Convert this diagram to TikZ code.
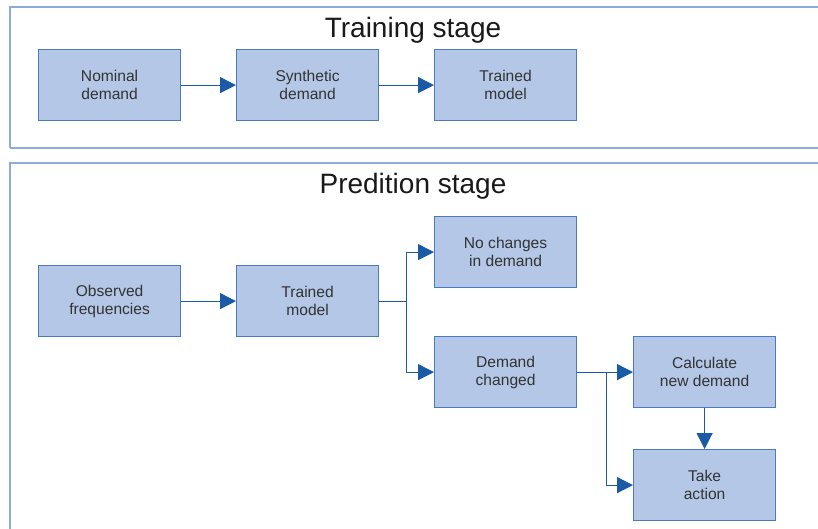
\documentclass[tikz,border=0pt]{standalone}
\usepackage{fontspec}
\setmainfont{Liberation Sans}
\usetikzlibrary{arrows.meta}
\definecolor{boxfill}{HTML}{B4C7E7}
\definecolor{boxline}{HTML}{4A7BBF}
\definecolor{arrowc}{HTML}{1A5AA6}
\definecolor{framec}{HTML}{8FAADC}
\begin{document}
\begin{tikzpicture}[x=1pt,y=-1pt,
  box/.style={draw=boxline, fill=boxfill, line width=1.2pt, minimum width=142pt, minimum height=71pt, inner sep=0pt, align=center, font=\fontsize{15.6}{17.8}\selectfont, text=black!80, anchor=north west},
  conn/.style={draw=arrowc, line width=1.2pt, -{Triangle[length=16pt,width=16pt]}},
  frame/.style={draw=framec, line width=2pt},
  title/.style={font=\fontsize{28}{32}\selectfont, text=black!90}]
\useasboundingbox (0,0) rectangle (818,528);
\fill[white] (0,0) rectangle (818,528);
\draw[frame] (10,148) -- (10,7) -- (830,7);
\draw[frame] (830,148) -- (10,148);
\draw[frame] (10,540) -- (10,163) -- (830,163);
\node[title] (t1) at (413,30) {Training stage};
\node[title] (t2) at (413,186) {Predition stage};
% training
\node[box] (nom) at (38,49) {Nominal\\demand};
\node[box] (syn) at (236,49) {Synthetic\\demand};
\node[box] (tr1) at (434,49) {Trained\\model};
\draw[conn] (nom) -- (syn);
\draw[conn] (syn) -- (tr1);
% prediction
\node[box] (obs) at (38,265) {Observed\\frequencies};
\node[box] (tr2) at (236,265) {Trained\\model};
\node[box] (noc) at (434,216) {No changes\\in demand};
\node[box] (dch) at (434,336) {Demand\\changed};
\node[box] (cal) at (633,336) {Calculate\\new demand};
\node[box] (act) at (633,449) {Take\\action};
\draw[conn] (obs) -- (tr2);
\path (tr2.east) ++(27,0) coordinate (b1);
\draw[draw=arrowc, line width=1.2pt] (tr2.east) -- (b1);
\draw[conn] (b1) |- (noc.west);
\draw[conn] (b1) |- (dch.west);
\path (dch.east) ++(29,0) coordinate (b2);
\draw[conn] (dch) -- (cal);
\draw[conn] (b2) |- (act.west);
\draw[conn] (cal) -- (act);
\end{tikzpicture}
\end{document}
